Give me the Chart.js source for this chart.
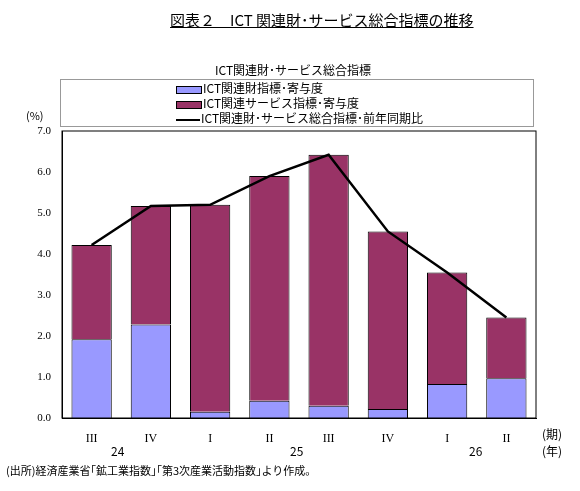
<!DOCTYPE html>
<html><head><meta charset="utf-8">
<script src="https://cdn.jsdelivr.net/npm/chart.js@4"></script>
<style>
body{margin:0;width:580px;height:491px;position:relative;background:#fff;font-family:"Noto Sans CJK JP",serif;color:#000}
.t{position:absolute;white-space:nowrap}
#c{position:absolute;left:0;top:0}
.lg{position:absolute;left:60px;top:79px;width:472px;height:46px;border:1px solid #999}
.lg div{position:absolute;left:115px;font-size:12px;line-height:14px}
.sw{display:inline-block;width:24px;height:6px;border:1px solid #000;vertical-align:middle;margin-right:1px}
</style></head><body>
<canvas id="c" width="580" height="491"></canvas>
<div class="t" style="left:170px;top:9px;font-size:15px;text-decoration:underline;font-family:'Noto Sans CJK JP'">図表２　ICT 関連財･サービス総合指標の推移</div>
<div class="t" style="left:215px;top:61px;font-size:12px">ICT関連財･サービス総合指標</div>
<div class="lg">
 <div style="top:1px"><span class="sw" style="background:#9999ff"></span>ICT関連財指標･寄与度</div>
 <div style="top:16px"><span class="sw" style="background:#993366"></span>ICT関連サービス指標･寄与度</div>
 <div style="top:31px"><span class="sw" style="background:#000;height:2px;border:none"></span>ICT関連財･サービス総合指標･前年同期比</div>
</div>
<div class="t" style="left:26px;top:107px;font-size:11px">(%)</div>
<div class="t" style="left:111px;top:442px;font-size:12px">24</div>
<div class="t" style="left:290px;top:442px;font-size:12px">25</div>
<div class="t" style="left:469px;top:442px;font-size:12px">26</div>
<div class="t" style="left:542px;top:425px;font-size:12px">(期)</div>
<div class="t" style="left:542px;top:442px;font-size:12px">(年)</div>
<div class="t" style="left:6px;top:462px;font-size:11px">(出所)経済産業省｢鉱工業指数｣｢第3次産業活動指数｣より作成。</div>
<script>
const quarters = ['III', 'IV', 'I', 'II', 'III', 'IV', 'I', 'II'];
const goods = [1.92, 2.28, 0.15, 0.42, 0.30, 0.22, 0.83, 0.97];
const services = [2.30, 2.89, 5.05, 5.48, 6.12, 4.33, 2.72, 1.48];
const total = [4.22, 5.17, 5.20, 5.90, 6.42, 4.55, 3.55, 2.45];

new Chart(document.getElementById('c'), {
  data: {
    labels: quarters,
    datasets: [
      { type: 'line', data: total, borderColor: '#000', borderWidth: 2.5, pointRadius: 0, tension: 0, order: 0 },
      { type: 'bar', data: goods, backgroundColor: '#9999ff', borderColor: '#000', borderWidth: 1, barPercentage: 0.68, categoryPercentage: 1, order: 1 },
      { type: 'bar', data: services, backgroundColor: '#993366', borderColor: '#000', borderWidth: 1, barPercentage: 0.68, categoryPercentage: 1, order: 1 }
    ]
  },
  options: {
    responsive: false, animation: false,
    layout: { padding: { left: 0, top: 131, right: 44, bottom: 43 } },
    plugins: { legend: { display: false }, tooltip: { enabled: false } },
    scales: {
      x: {
        stacked: true,
        grid: { display: false },
        border: { color: '#000' },
        ticks: { color: '#000', font: { family: 'serif', size: 12 }, padding: 6 },
        afterFit: s => { s.height = 30; }
      },
      y: {
        stacked: true, min: 0, max: 7,
        grid: { display: false },
        border: { color: '#000' },
        ticks: { stepSize: 1, color: '#000', font: { family: 'serif', size: 11 }, callback: v => v.toFixed(1) },
        afterFit: s => { s.width = 62; }
      }
    }
  },
  plugins: [{
    id: 'frame',
    afterDraw: (chart) => {
      const { ctx, chartArea: { top, left, right, bottom } } = chart;
      ctx.save();
      ctx.strokeStyle = '#000';
      ctx.lineWidth = 1;
      ctx.strokeRect(left, top, right - left, bottom - top);
      ctx.restore();
    }
  }]
});
</script>
</body></html>
